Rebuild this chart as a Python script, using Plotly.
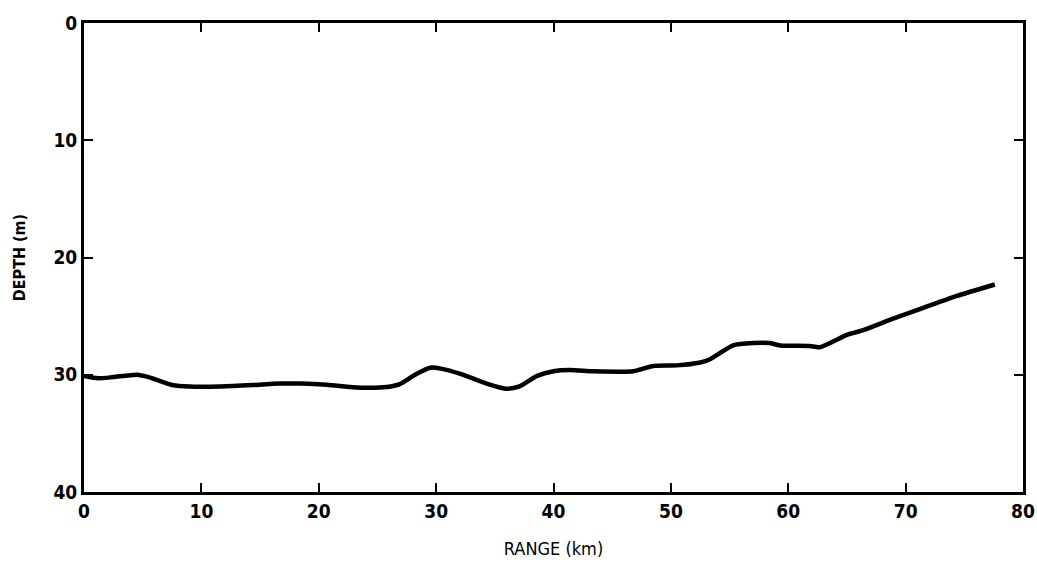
import plotly.graph_objects as go

# Bottom depth profile along the track
range_km = [0.0, 1.2, 2.5, 4.5, 5.5, 7.6, 9.0, 11.5, 13.9, 16.7, 18.5, 20.7,
            23.5, 25.8, 26.9, 28.2, 29.5, 30.5, 32.0, 34.3, 36.0, 37.1, 38.6,
            40.0, 41.4, 43.4, 46.8, 48.5, 50.5, 52.5, 53.3, 55.3, 57.0, 58.4,
            59.3, 61.8, 62.7, 65.0, 66.4, 69.0, 71.5, 74.3, 77.6]
depth_m = [30.1, 30.3, 30.2, 30.0, 30.2, 30.9, 31.0, 31.0, 30.9, 30.75, 30.75, 30.85,
           31.1, 31.05, 30.8, 30.0, 29.4, 29.5, 29.9, 30.75, 31.2, 31.0, 30.1,
           29.7, 29.6, 29.7, 29.7, 29.25, 29.2, 28.95, 28.7, 27.5, 27.3, 27.3,
           27.5, 27.55, 27.65, 26.6, 26.2, 25.2, 24.3, 23.3, 22.3]

x_ticks = [0, 10, 20, 30, 40, 50, 60, 70, 80]
y_ticks = [0, 10, 20, 30, 40]

FONT = "DejaVu Sans Condensed, DejaVu Sans"

fig = go.Figure()
fig.add_trace(go.Scatter(
    x=range_km, y=depth_m, mode="lines",
    line=dict(color="black", width=4.5, shape="spline", smoothing=0.6),
    showlegend=False, hoverinfo="skip",
))

tick_font = dict(family=FONT, size=19, color="black")

fig.update_xaxes(
    range=[0, 80], tickvals=x_ticks, ticktext=[f"<b>{v}</b>" for v in x_ticks],
    ticks="inside", ticklen=9, tickwidth=2, tickcolor="black",
    showline=True, linewidth=3, linecolor="black", mirror="ticks",
    showgrid=False, zeroline=False, tickfont=tick_font, automargin=False,
    title=dict(text="RANGE (km)", standoff=22,
               font=dict(family=FONT, size=18, color="black")),
)
fig.update_yaxes(
    range=[40, 0], tickvals=y_ticks, ticktext=[f"<b>{v}</b>" for v in y_ticks],
    ticks="inside", ticklen=9, tickwidth=2, tickcolor="black",
    showline=True, linewidth=3, linecolor="black", mirror="ticks",
    showgrid=False, zeroline=False, tickfont=tick_font, automargin=False,
    title=dict(text="<b>DEPTH (m)</b>", standoff=24,
               font=dict(family=FONT, size=16, color="black")),
)

fig.update_layout(
    width=1037, height=569,
    margin=dict(l=84, r=14, t=23, b=77),
    paper_bgcolor="white", plot_bgcolor="white",
    font=dict(family=FONT, color="black"),
)

fig.write_html("out.html")
